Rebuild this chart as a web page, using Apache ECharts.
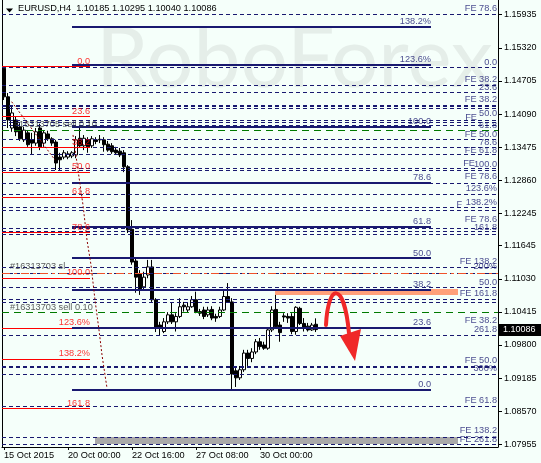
<!DOCTYPE html>
<html><head><meta charset="utf-8">
<script src="https://cdn.jsdelivr.net/npm/echarts@6/dist/echarts.min.js"></script>
<style>html,body{margin:0;padding:0;background:#F5FFFA;}#c{width:541px;height:463px;}</style>
</head><body><div id="c"></div>
<script>
// ---------- data ----------
const symbolName = 'EURUSD,H4';
const xTickPos = [0, 16, 32, 48, 64];
const xTickLabels = ['15 Oct 2015', '20 Oct 00:00', '22 Oct 16:00', '27 Oct 08:00', '30 Oct 00:00'];
const yTicks = [1.15935,1.15320,1.14705,1.14090,1.13475,1.12860,1.12245,1.11645,1.11030,1.10415,1.09800,1.09185,1.08570,1.07955];
const yMin = 1.07905, yMax = 1.16208;

const opens = [1.1494,1.1441,1.1383,1.1398,1.1385,1.1361,1.1374,1.1361,1.1355,1.1383,
1.1355,1.1372,1.1363,1.1357,1.1329,1.1329,1.1329,1.1331,1.1333,1.1364,
1.1350,1.1361,1.1350,1.1361,1.1361,1.1361,1.1353,1.1350,1.1342,1.1340,
1.1337,1.1311,1.1195,1.1136,1.1112,1.1088,1.1110,1.1125,1.1064,1.1017,
1.1005,1.1023,1.1036,1.1023,1.1033,1.1054,1.1045,1.1051,1.1064,1.1042,
1.1045,1.1036,1.1046,1.1033,1.1033,1.1045,1.1070,1.1060,1.0932,1.0919,
1.0934,1.0965,1.0955,1.0967,1.0986,1.0980,1.0974,1.1008,1.1046,1.1017,
1.1034,1.1033,1.1033,1.1005,1.1048,1.1020,1.1015,1.1008,1.10185];
const highs = [1.1497,1.1448,1.1422,1.1405,1.1392,1.1385,1.1379,1.1374,1.1383,1.1391,
1.1379,1.1378,1.1366,1.1361,1.1337,1.1342,1.1340,1.1340,1.1368,1.1385,
1.1370,1.1366,1.1368,1.1366,1.1370,1.1366,1.1359,1.1355,1.1348,1.1346,
1.1342,1.1314,1.1212,1.1142,1.1119,1.1116,1.1138,1.1138,1.1067,1.1023,
1.1030,1.1041,1.1058,1.1039,1.1067,1.1060,1.1058,1.1071,1.1079,1.1047,
1.1051,1.1051,1.1052,1.1038,1.1051,1.1082,1.1095,1.1067,1.0937,1.0941,
1.0971,1.0971,1.0974,1.0991,1.0993,1.0986,1.1013,1.1052,1.1073,1.1023,
1.1039,1.1039,1.1039,1.1052,1.1051,1.1030,1.1021,1.1021,1.10295];
const lows = [1.1435,1.1383,1.1376,1.1368,1.1359,1.1357,1.1348,1.1333,1.1350,1.1342,
1.1348,1.1359,1.1350,1.1305,1.1305,1.1325,1.1325,1.1327,1.1327,1.1346,
1.1342,1.1337,1.1346,1.1353,1.1355,1.1339,1.1339,1.1335,1.1333,1.1329,
1.1301,1.1188,1.1129,1.1077,1.1073,1.1082,1.1104,1.1060,1.1004,1.0997,
1.1002,1.1019,1.1019,1.1005,1.1030,1.1042,1.1041,1.1049,1.1039,1.1034,
1.1028,1.1032,1.1026,1.1023,1.1030,1.1043,1.1058,1.0896,1.0902,1.0915,
1.0930,1.0941,1.0948,1.0963,1.0971,1.0971,1.0971,1.1004,1.1012,1.0986,
1.1023,1.1021,1.1000,1.0999,1.1017,1.1005,1.1005,1.1006,1.10040];
const closes = [1.1441,1.1398,1.1411,1.1376,1.1363,1.1379,1.1352,1.1355,1.1376,1.1348,
1.1374,1.1363,1.1355,1.1318,1.1324,1.1337,1.1335,1.1337,1.1361,1.1350,
1.1364,1.1348,1.1363,1.1358,1.1362,1.1352,1.1342,1.1339,1.1337,1.1333,
1.1311,1.1194,1.1134,1.1106,1.1082,1.1106,1.1125,1.1064,1.1013,1.1012,
1.1023,1.1036,1.1023,1.1033,1.1051,1.1051,1.1051,1.1064,1.1042,1.1039,
1.1033,1.1045,1.1030,1.1030,1.1045,1.1070,1.1060,1.0926,1.0919,1.0934,
1.0965,1.0955,1.0967,1.0986,1.0977,1.0974,1.1008,1.1045,1.1014,1.1003,
1.1032,1.1030,1.1005,1.1050,1.1020,1.1011,1.1008,1.1017,1.10086];

// red Fibonacci retracement (left)
const redFiboHigh = 1.1497, redFiboLow = 1.1104;
const redFiboRatios = [0, 23.6, 38.2, 50, 61.8, 78.6, 100, 123.6, 138.2, 161.8];
const redFiboLabels = ['0.0','23.6','38.2','50.0','61.8','78.6','100.0','123.6%','138.2%','161.8'];
const redFiboStart = -0.5, redFiboEnd = 21.5;

// navy Fibonacci retracement (solid)
const navyFiboLow = 1.08964, navyFiboHigh = 1.13849;
const navyFiboRatios = [0, 23.6, 38.2, 50, 61.8, 78.6, 100, 123.6, 138.2];
const navyFiboLabels = ['0.0','23.6','38.2','50.0','61.8','78.6','100.0','123.6%','138.2%'];
const navyFiboStart = 17, navyFiboEnd = 106.75;

// dashed expansion levels (full width)
const dashedLevels = [1.15935,1.14958,1.14629,1.14486,1.14196,1.13979,1.13929,1.13881,1.13608,1.13472,1.13329,
1.13082,1.13037,1.12803,1.12599,1.12350,1.12307,1.11967,1.11904,1.11861,1.11243,1.11131,1.10864,
1.10636,1.10593,1.09985,1.09255,1.08661,1.08085,1.07955];
const heavyDashedLevels = [1.14239, 1.09397];
const orderLevels = [1.13780, 1.10400];
const stopLevels = [1.11137];

// right-hand level captions
const rightLabelTexts = ['FE 78.6','0.0','FE 38.2','23.6','FE 38.2','50.0','61.8','FE 50.0','78.6','FE 61.8',
'100.0','FE 78.6','123.6%','138.2%','FE 78.6','161.8','FE 138.2','200%','50.0','FE 161.8',
'FE 38.2','261.8','FE 50.0','300%','FE 61.8','FE 138.2','FE 261.8'];
const rightLabelPrices = [1.16050,1.15056,1.14741,1.14592,1.14360,1.14104,1.13886,1.13719,1.13570,1.13422,
1.13162,1.12939,1.12707,1.12456,1.12140,1.11991,1.11360,1.11258,1.10970,1.10753,
1.10255,1.10097,1.09512,1.09372,1.08778,1.08211,1.08054];
const fragTexts = ['FE', 'FE', 'F'];
const fragBars = [118.25, 117.75, 114.5];
const fragPrices = [1.14035, 1.13180, 1.12419];

// order tickets
const ticketTexts = ['#16313705 sell 0.10', '#16313703 sl', '#16313703 sell 0.10'];
const ticketBars = [2.5, 1.5, 1.5];
const ticketPrices = [1.13905, 1.11254, 1.10506];

// dotted trend lines
const trendABars = [1.9, 12.75];
const trendAPrices = [1.14319, 1.13236];
const trendBBars = [17.25, 18.5, 19.75, 20.75, 21.75, 22.75, 23.75, 24.5, 25.25, 25.75];
const trendBPrices = [1.13701, 1.13050, 1.12400, 1.11750, 1.11286, 1.10636, 1.10078, 1.09614, 1.09242, 1.09001];

// rectangles [barFrom, barTo, priceTop, priceBottom]
const rects = [[67.75, 113.5, 1.10845, 1.10741], [22.75, 113.5, 1.08085, 1.07961]];

// forecast arrow: start, cp1, cp2, end, head-left, head-right, tip
const arrowBars = [80.5, 81, 85, 86.25, 84, 89.25, 87.75];
const arrowPrices = [1.10171, 1.10951, 1.11007, 1.10023, 1.09967, 1.10097, 1.09502];

// ---------- chart ----------
const NAVY = '#191970', RED = '#FF0000', FONT = 'Liberation Sans, Arial, sans-serif';
const X0 = -0.5, X1 = 123.5;
const last = opens.length - 1;
const fmt = v => v.toFixed(5);
const titleText = symbolName + '  ' + fmt(opens[last]) + ' ' + fmt(highs[last]) + ' ' + fmt(lows[last]) + ' ' + fmt(closes[last]);

const candleData = opens.map((o, i) => [i, o, closes[i], lows[i], highs[i]]);
const redLevelPrices = redFiboRatios.map(r => redFiboHigh - r / 100 * (redFiboHigh - redFiboLow));
const navyLevelPrices = navyFiboRatios.map(r => navyFiboLow + r / 100 * (navyFiboHigh - navyFiboLow));

// crisp horizontal segments drawn through the axes' scales
function hLines(prices, from, to, stroke, width, dash, z) {
  return {type: 'custom', z: z, silent: true, clip: false,
    encode: {x: [0, 1], y: 2},
    data: prices.map(p => [from, to, p]),
    renderItem: (params, api) => {
      const a = api.coord([api.value(0), api.value(2)]);
      const b = api.coord([api.value(1), api.value(2)]);
      const y = width % 2 ? Math.round(a[1] - 0.5) + 0.5 : Math.round(a[1]);
      return {type: 'line', shape: {x1: Math.round(a[0]), y1: y, x2: Math.round(b[0]), y2: y},
        style: {stroke: stroke, lineWidth: width, lineDash: dash || null, fill: null}};
    }};
}
function labelSeries(items, lbl, z) {
  return {type: 'scatter', symbolSize: 0, silent: true, z: z || 8, clip: false,
    data: items.map(it => ({name: it[0], value: [it[1], it[2]]})),
    label: Object.assign({show: true, formatter: '{b}', fontFamily: FONT, fontSize: 9.2, position: [0, 0]}, lbl)};
}

const chart = echarts.init(document.getElementById('c'), null, {renderer: 'canvas'});
chart.setOption({
  animation: false,
  backgroundColor: '#F5FFFA',
  grid: {left: 2, right: 43, top: 0, bottom: 16, containLabel: false},
  xAxis: {
    type: 'value', min: X0, max: X1,
    splitLine: {show: false},
    axisLine: {show: true, onZero: false, lineStyle: {color: '#000', width: 1}},
    axisTick: {show: true, customValues: xTickPos, length: 3, lineStyle: {color: '#000'}},
    axisLabel: {customValues: xTickPos, formatter: v => xTickLabels[xTickPos.indexOf(v)] || '',
      align: 'left', margin: 4, color: '#000', fontFamily: FONT, fontSize: 9.2}
  },
  yAxis: [{
    type: 'value', position: 'right', min: yMin, max: yMax,
    splitLine: {show: false},
    axisLine: {show: true, onZero: false, lineStyle: {color: '#000', width: 1}},
    axisTick: {show: true, customValues: yTicks, length: 4, lineStyle: {color: '#000'}},
    axisLabel: {customValues: yTicks, formatter: v => v.toFixed(5), margin: 6, color: '#000', fontFamily: FONT, fontSize: 9}
  }, {
    type: 'value', position: 'left', min: yMin, max: yMax,
    splitLine: {show: false}, axisTick: {show: false}, axisLabel: {show: false},
    axisLine: {show: true, onZero: false, lineStyle: {color: '#000', width: 1}}
  }],
  graphic: [
    {type: 'text', left: 96, top: 18, z: -10, silent: true,
      style: {text: 'RoboForex', fill: '#E5EEE9', font: '84px Lato, sans-serif'}},
    {type: 'polygon', z: 100, shape: {points: [[6, 8.5], [13, 8.5], [9.5, 12.5]]}, style: {fill: '#000'}},
    {type: 'text', left: 18, top: 4, z: 100, style: {text: titleText, fill: '#000', font: '9.2px ' + FONT}}
  ],
  series: [
    // rectangles (background)
    {type: 'custom', z: 1, silent: true, clip: true, encode: {x: [0, 1], y: [2, 3]}, data: rects,
      renderItem: (params, api) => {
        const a = api.coord([api.value(0), api.value(2)]);
        const b = api.coord([api.value(1), api.value(3)]);
        return {type: 'rect', shape: {x: Math.round(a[0]), y: Math.round(a[1]), width: Math.round(b[0] - a[0]), height: Math.round(b[1] - a[1])},
          style: {fill: params.dataIndex === 0 ? '#FFA07A' : '#A9A9A9'}};
      }},
    // candles
    {type: 'candlestick', z: 3, data: candleData, barWidth: 3, silent: true,
      itemStyle: {color: '#FFFFFF', color0: '#000000', borderColor: '#000000', borderColor0: '#000000', borderWidth: 1}},
    // dashed levels
    hLines(dashedLevels, X0, X1, NAVY, 1, [4, 3], 4),
    hLines(heavyDashedLevels, X0, X1, NAVY, 2, [4, 3], 4),
    hLines(orderLevels, X0, X1, '#007A00', 1, [7, 5], 4),
    hLines(stopLevels, X0, X1, '#F0522A', 1, [8, 4, 3, 4], 4),
    // red fibo
    hLines(redLevelPrices, redFiboStart, redFiboEnd, RED, 1, null, 5),
    // navy fibo
    hLines(navyLevelPrices, navyFiboStart, navyFiboEnd, NAVY, 2, null, 5),
    // dotted trend lines
    {type: 'lines', coordinateSystem: 'cartesian2d', polyline: true, silent: true, z: 5,
      data: [{coords: trendABars.map((b, i) => [b, trendAPrices[i]])}, {coords: trendBBars.map((b, i) => [b, trendBPrices[i]])}],
      lineStyle: {color: '#8B0000', width: 1, type: [2, 2], opacity: 1}},
    // labels
    labelSeries(rightLabelTexts.map((t, i) => [t, 123.25, rightLabelPrices[i]]), {align: 'right', verticalAlign: 'middle', color: NAVY}),
    labelSeries(fragTexts.map((t, i) => [t, fragBars[i], fragPrices[i]]), {align: 'right', verticalAlign: 'middle', color: NAVY}),
    labelSeries(redFiboLabels.map((t, i) => [t, redFiboEnd, redLevelPrices[i]]), {align: 'right', verticalAlign: 'bottom', color: RED, position: [0, -1]}),
    labelSeries(navyFiboLabels.map((t, i) => [t, navyFiboEnd, navyLevelPrices[i]]), {align: 'right', verticalAlign: 'bottom', color: NAVY, position: [0, -1]}),
    labelSeries(ticketTexts.map((t, i) => [t, ticketBars[i], ticketPrices[i]]), {align: 'left', verticalAlign: 'middle', color: '#333333'}),
    // forecast arrow
    {type: 'custom', z: 9, silent: true, clip: false, data: [[arrowBars[0], arrowPrices[0]]],
      renderItem: (params, api) => {
        const P = arrowBars.map((b, i) => api.coord([b, arrowPrices[i]]));
        return {type: 'group', children: [
          {type: 'bezierCurve', shape: {x1: P[0][0], y1: P[0][1], cpx1: P[1][0], cpy1: P[1][1], cpx2: P[2][0], cpy2: P[2][1], x2: P[3][0], y2: P[3][1]},
            style: {stroke: '#F02828', lineWidth: 4, fill: 'none', lineCap: 'round'}},
          {type: 'polygon', shape: {points: [P[4], P[5], P[6]]}, style: {fill: '#F02828'}}
        ]};
      }},
    // current price box
    {type: 'custom', z: 10, silent: true, clip: false, data: [[X1, closes[last]]],
      renderItem: (params, api) => {
        const pt = api.coord([api.value(0), api.value(1)]);
        return {type: 'group', children: [
          {type: 'rect', shape: {x: Math.round(pt[0]) + 1, y: Math.round(pt[1]) - 6, width: 42, height: 12}, style: {fill: '#000'}},
          {type: 'text', style: {x: pt[0] + 5, y: pt[1], text: fmt(closes[last]), fill: '#FFFFFF',
            font: '9px ' + FONT, verticalAlign: 'middle', align: 'left'}}
        ]};
      }}
  ]
});
</script>
</body></html>
